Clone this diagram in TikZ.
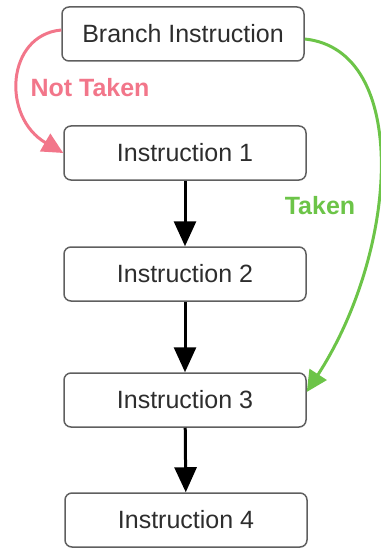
\documentclass[tikz,border=0pt]{standalone}
\usepackage{fontspec}
\setmainfont{Liberation Sans}
\usepackage{xcolor}
\usetikzlibrary{arrows.meta}

\definecolor{nottaken}{RGB}{242,118,138}
\definecolor{taken}{RGB}{108,196,72}
\definecolor{boxline}{RGB}{95,95,95}
\definecolor{boxtext}{RGB}{45,45,45}

\tikzset{
  instbox/.style={draw=boxline, line width=1.5pt, rounded corners=7pt,
    minimum width=242pt, minimum height=54pt, inner sep=0pt,
    text=boxtext, font=\fontsize{25}{30}\selectfont},
  flow/.style={line width=3pt, -{Triangle[length=25pt,width=22pt]}},
  jump/.style={line width=3pt, -{Triangle[length=21pt,width=20pt]}},
  lbl/.style={font=\bfseries\fontsize{25}{30}\selectfont, inner sep=0pt}
}

\begin{document}
\begin{tikzpicture}[x=1pt,y=1pt]
\useasboundingbox (0,0) rectangle (380,-548);
% the boxes
\node[instbox] (br) at (183,-34) {Branch Instruction};
\node[instbox] (i1) at (185,-153) {Instruction 1};
\node[instbox] (i2) at (185,-274) {Instruction 2};
\node[instbox] (i3) at (185,-400) {Instruction 3};
\node[instbox] (i4) at (186,-520) {Instruction 4};
% straight flow
\draw[flow] (i1) -- (i2);
\draw[flow] (i2) -- (i3);
\draw[flow] (i3) -- (i4);
% branch edges
\draw[jump, nottaken] ([yshift=4pt]br.west) .. controls +(-55,-5) and +(-62,36) .. (i1.west);
\node[lbl, text=nottaken] (ntl) at (90,-88) {Not Taken};
\draw[jump, taken] ([yshift=-5pt]br.east) .. controls +(106,-11) and +(92,142) .. ([yshift=8pt]i3.east);
\node[lbl, text=taken] (tkl) at (320,-206) {Taken};
\end{tikzpicture}
\end{document}
